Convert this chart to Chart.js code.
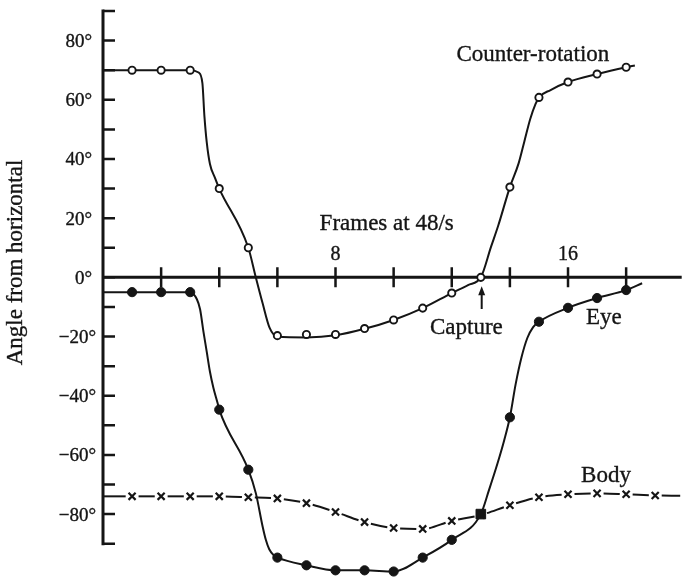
<!DOCTYPE html>
<html>
<head>
<meta charset="utf-8">
<title>Angle from horizontal</title>
<script src="https://cdn.jsdelivr.net/npm/chart.js@4.4.1/dist/chart.umd.min.js"></script>
<style>
  html, body { margin: 0; padding: 0; background: #fff; }
  #box { position: relative; width: 688px; height: 587px; }
</style>
</head>
<body>
<div id="box"><canvas id="chart" width="688" height="587"></canvas></div>
<script>
// Frame numbers (48 frames per second) and measured angles, in degrees
const frames = [1, 2, 3, 4, 5, 6, 7, 8, 9, 10, 11, 12, 13, 14, 15, 16, 17, 18];
const counterRotation = [70, 70, 70, 30, 10, -19.7, -19.3, -19.3, -17.3, -14.4, -10.4, -5.3, 0, 30.5, 60.8, 66, 68.7, 71];
const eye = [-5, -5, -5, -44.7, -65, -94.7, -97.3, -99, -99, -99.4, -94.7, -88.7, -80, -47.3, -15, -10.3, -7, -4.3];
const bodyFrames = [1, 2, 3, 4, 5, 6, 7, 8, 9, 10, 11, 12, 13, 14, 15, 16, 17, 18, 19];
const body = [-74, -74, -74, -74, -74.3, -74.7, -76.3, -79.3, -82.7, -84.7, -85, -82.3, -80.3, -77, -74.3, -73.3, -73, -73.3, -73.7];

// Fair curves drawn through the measurements (frame, degrees)
const counterCurveX = [0, 1, 2, 3, 3.29, 3.42, 3.49, 3.57, 3.68, 3.85, 4, 5, 5.25, 5.49, 5.73, 6, 7, 8, 9, 10, 11, 12, 12.56, 13, 13.35, 13.6, 14, 14.3, 14.5, 14.7, 14.88, 15, 15.4, 16, 17, 18, 18.3];
const counterCurveY = [70, 70, 70, 70, 69.2, 65.6, 54.4, 45.6, 38.3, 33.7, 30, 10, 0.3, -8.7, -17, -20, -20.3, -19.6, -17.4, -14.4, -10.4, -5.3, -2.6, 0, 10.3, 17.5, 30.5, 38.5, 46, 53.5, 58.5, 60.8, 63.3, 66, 68.7, 71, 71.6];
const eyeCurveX = [0, 1, 2, 3, 3.23, 3.34, 3.46, 3.57, 3.68, 3.8, 3.94, 4, 5, 5.26, 5.49, 5.6, 5.72, 5.89, 6, 7, 8, 9, 10, 11, 12, 13, 13.28, 13.57, 13.8, 14, 14.2, 14.4, 14.6, 14.8, 15, 16, 17, 18, 18.55];
const eyeCurveY = [-5, -5, -5, -5, -7.4, -10.8, -18.6, -25.2, -31.9, -37.4, -42.4, -44.7, -65, -73, -84.1, -88.6, -91.9, -94.1, -94.7, -97.3, -99, -99, -99.4, -94.7, -88.7, -80, -71.9, -63, -55.2, -47.3, -36, -27, -20.5, -16.8, -15, -10.3, -7, -4.3, -2];
const bodyCurveX = [0, 1, 2, 3, 4, 5, 6, 7, 8, 9, 10, 11, 12, 13, 14, 15, 16, 17, 18, 19, 19.86];
const bodyCurveY = [-74, -74, -74, -74, -74, -74.3, -74.7, -76.3, -79.3, -82.7, -84.7, -85, -82.3, -80.3, -77, -74.3, -73.3, -73, -73.3, -73.7, -73.8];

// Frame at which the eye meets the body line
const captureFrame = 13;

// Axis ticks and their labels
const xTicks = [2, 4, 6, 8, 10, 12, 14, 16, 18];
const xLabelValues = [8, 16];
const xLabels = ['8', '16'];
const yTicks = [-90, -80, -70, -60, -50, -40, -30, -20, -10, 0, 10, 20, 30, 40, 50, 60, 70, 80, 90];
const yLabelValues = [80, 60, 40, 20, 0, -20, -40, -60, -80];
const yLabels = ['80°', '60°', '40°', '20°', '0°', '−20°', '−40°', '−60°', '−80°'];

// Text set on the plot, anchored in data units (frame, degrees)
const notes = [
  { text: 'Frames at 48/s', x: 9.76, y: 16, align: 'center' },
  { text: 'Counter-rotation', x: 14.79, y: 73.1, align: 'center' },
  { text: 'Capture', x: 11.25, y: -19.1, align: 'left' },
  { text: 'Eye', x: 16.62, y: -15.8, align: 'left' },
  { text: 'Body', x: 16.45, y: -69.1, align: 'left' }
];
const captureArrow = { x: 13.03, from: -10.7, to: -3 };

const INK = '#151515';
const SERIF = '"Liberation Serif", "Times New Roman", serif';

const pts = (xs, ys) => xs.map((x, i) => ({ x: x, y: ys[i] }));

// Dashes of the body line: one dash per frame interval, gaps at the crosses
function bodyDash(ctx) {
  const gap = 6.5;
  const L = Math.hypot(ctx.p1.x - ctx.p0.x, ctx.p1.y - ctx.p0.y) * 1.004;
  const last = bodyCurveX.length - 2;
  if (ctx.p0DataIndex === 0) return [Math.max(L - gap, 1), 400];
  if (ctx.p0DataIndex === last) return [L, 400];
  return [Math.max(L - 2 * gap, 1), 400];
}
function bodyDashOffset(ctx) {
  const gap = 6.5;
  const d = bodyDash(ctx);
  const period = d[0] + d[1];
  const eps = ctx.p0DataIndex * 1e-4;
  return ctx.p0DataIndex === 0 ? eps : period - gap + eps;
}

// Printed type is a little heavier than the screen face
function inkText(ctx, s, x, y) {
  ctx.fillText(s, x, y);
  ctx.strokeText(s, x, y);
}

const paperAxes = {
  id: 'paperAxes',
  beforeDatasetsDraw(chart) {
    const { ctx, scales: { x, y }, chartArea } = chart;
    const x0 = x.getPixelForValue(0);
    const y0 = y.getPixelForValue(0);
    ctx.save();
    ctx.strokeStyle = INK;
    ctx.lineCap = 'square';
    ctx.lineWidth = 3;
    ctx.beginPath();
    ctx.moveTo(x0, y.getPixelForValue(yTicks[yTicks.length - 1]));
    ctx.lineTo(x0, y.getPixelForValue(yTicks[0]));
    ctx.moveTo(x0, y0);
    ctx.lineTo(chartArea.right, y0);
    ctx.stroke();
    ctx.lineCap = 'butt';
    ctx.lineWidth = 2.5;
    ctx.beginPath();
    yTicks.forEach(v => {
      const py = y.getPixelForValue(v);
      ctx.moveTo(x0, py);
      ctx.lineTo(x0 + 12, py);
    });
    xTicks.forEach(v => {
      const px = x.getPixelForValue(v);
      ctx.moveTo(px, y0 - 10);
      ctx.lineTo(px, y0 + 10);
    });
    ctx.stroke();
    ctx.restore();
  },
  afterDatasetsDraw(chart) {
    const { ctx, scales: { x, y } } = chart;
    const x0 = x.getPixelForValue(0);
    const y0 = y.getPixelForValue(0);
    ctx.save();
    ctx.fillStyle = INK;
    ctx.strokeStyle = INK;
    ctx.lineWidth = 0.35;
    ctx.textBaseline = 'alphabetic';

    // y tick labels
    ctx.font = '19px ' + SERIF;
    ctx.textAlign = 'right';
    yLabelValues.forEach((v, i) => {
      const right = v < 0 ? x0 - 7 : x0 - 11;
      inkText(ctx, yLabels[i], right, y.getPixelForValue(v) + 6.5);
    });

    // x tick labels, set above the axis
    ctx.font = '20px ' + SERIF;
    ctx.textAlign = 'center';
    xLabelValues.forEach((v, i) => {
      inkText(ctx, xLabels[i], x.getPixelForValue(v), y0 - 17);
    });

    // curve names and the frame-rate note
    ctx.font = '23px ' + SERIF;
    notes.forEach(n => {
      ctx.textAlign = n.align;
      inkText(ctx, n.text, x.getPixelForValue(n.x), y.getPixelForValue(n.y));
    });

    // axis title
    ctx.save();
    ctx.translate(21.5, 262.5);
    ctx.rotate(-Math.PI / 2);
    ctx.textAlign = 'center';
    inkText(ctx, 'Angle from horizontal', 0, 0);
    ctx.restore();

    // arrow pointing at the capture point
    const ax = x.getPixelForValue(captureArrow.x);
    const ay1 = y.getPixelForValue(captureArrow.from);
    const ay0 = y.getPixelForValue(captureArrow.to);
    ctx.lineWidth = 2;
    ctx.beginPath();
    ctx.moveTo(ax, ay1);
    ctx.lineTo(ax, ay0 + 6);
    ctx.stroke();
    ctx.beginPath();
    ctx.moveTo(ax, ay0);
    ctx.lineTo(ax - 3.5, ay0 + 9);
    ctx.lineTo(ax + 3.5, ay0 + 9);
    ctx.closePath();
    ctx.fill();
    ctx.restore();
  }
};

new Chart(document.getElementById('chart'), {
  type: 'scatter',
  data: {
    datasets: [
      {
        label: 'Counter-rotation',
        data: pts(frames, counterRotation),
        showLine: false,
        pointStyle: 'circle',
        pointRadius: 3.6,
        pointBorderWidth: 1.9,
        pointBackgroundColor: '#ffffff',
        pointBorderColor: INK,
        clip: false
      },
      {
        label: 'Eye',
        data: pts(frames, eye),
        showLine: false,
        pointStyle: c => frames[c.dataIndex] === captureFrame ? 'rect' : 'circle',
        pointRadius: c => frames[c.dataIndex] === captureFrame ? 6.8 : 4.6,
        pointBorderWidth: 1,
        pointBackgroundColor: INK,
        pointBorderColor: INK,
        clip: false
      },
      {
        label: 'Body',
        data: pts(bodyFrames, body),
        showLine: false,
        pointStyle: 'crossRot',
        pointRadius: 5,
        pointBorderWidth: 2.2,
        pointBorderColor: INK,
        clip: false
      },
      {
        label: 'Counter-rotation curve',
        data: pts(counterCurveX, counterCurveY),
        showLine: true,
        cubicInterpolationMode: 'monotone',
        borderColor: INK,
        borderWidth: 2,
        pointRadius: 0,
        clip: false
      },
      {
        label: 'Eye curve',
        data: pts(eyeCurveX, eyeCurveY),
        showLine: true,
        cubicInterpolationMode: 'monotone',
        borderColor: INK,
        borderWidth: 2,
        pointRadius: 0,
        clip: false
      },
      {
        label: 'Body curve',
        data: pts(bodyCurveX, bodyCurveY),
        showLine: true,
        cubicInterpolationMode: 'monotone',
        borderColor: INK,
        borderWidth: 2,
        pointRadius: 0,
        clip: false,
        segment: {
          borderDash: bodyDash,
          borderDashOffset: bodyDashOffset
        }
      }
    ]
  },
  options: {
    responsive: false,
    animation: false,
    devicePixelRatio: 1,
    events: [],
    layout: { padding: { left: 103, top: 11, right: 0, bottom: 0 } },
    scales: {
      x: { type: 'linear', min: 0, max: 19.86, display: false },
      y: { type: 'linear', min: -102, max: 90, display: false }
    },
    plugins: {
      legend: { display: false },
      tooltip: { enabled: false }
    }
  },
  plugins: [paperAxes]
});
</script>
</body>
</html>
